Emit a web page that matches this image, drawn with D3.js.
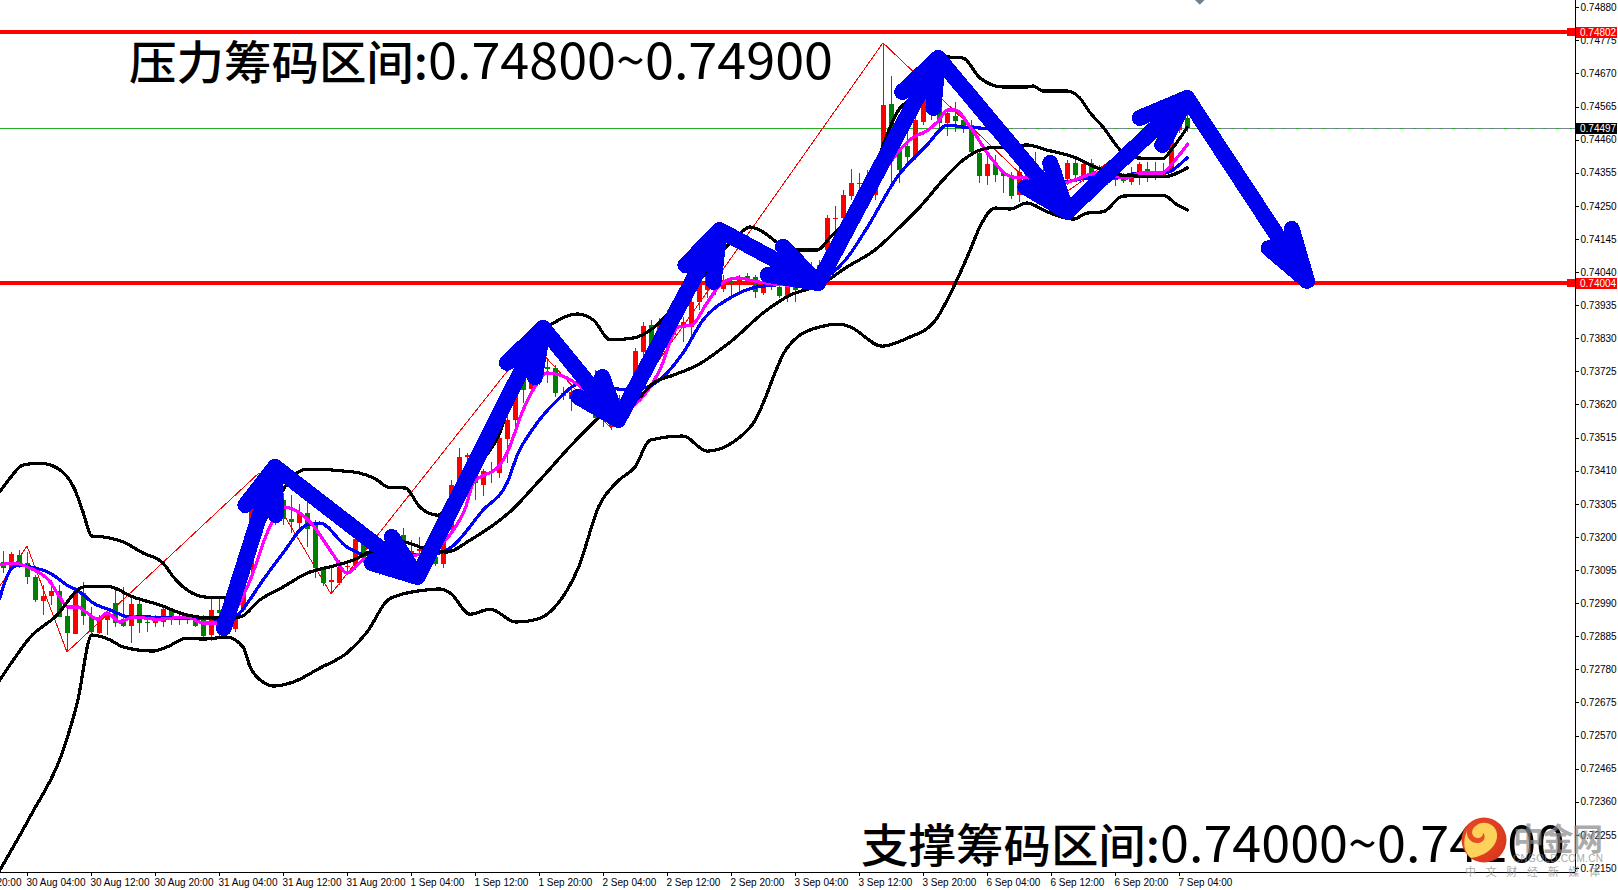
<!DOCTYPE html>
<html><head><meta charset="utf-8">
<script src="https://cdn.jsdelivr.net/npm/d3@7/dist/d3.min.js"></script>
<style>
html,body{margin:0;padding:0;background:#fff;overflow:hidden}
svg{display:block}
.axis text{font-family:"Liberation Sans","DejaVu Sans",sans-serif;font-size:10px;fill:#000}
.axis path,.axis line{stroke:#000;stroke-width:1;shape-rendering:crispEdges}
</style></head><body>
<svg id="chart" width="1618" height="890"></svg>
<script>
// Prices are quoted in units of 0.00001 (e.g. 73121 = 0.73121)
const candleOpen=[73121,73102,73143,73117,73073,72997,73013,73029,72949,72892,73022,72949,72895,72936,72990,72939,72917,72987,72930,72927,72930,72968,72939,72949,72946,72936,72889,72968,72921,72908,72968,73098,73285,73380,73349,73317,73257,73244,73276,73238,73098,73057,73054,73105,73108,73181,73149,73158,73143,73165,73206,73146,73155,73149,73136,73114,73222,73371,73453,73406,73365,73409,73403,73511,73571,73704,73669,73698,73739,73736,73656,73637,73650,73634,73650,73580,73549,73615,73640,73688,73787,73872,73856,73882,73879,73866,73866,73945,73983,73999,73986,74012,74009,74028,74025,73973,73999,73993,73961,73999,73999,74056,74015,74110,74208,74211,74281,74323,74339,74285,74418,74573,74427,74440,74405,74516,74538,74580,74513,74535,74522,74506,74418,74345,74383,74354,74342,74284,74364,74357,74357,74316,74332,74335,74386,74345,74386,74357,74338,74332,74335,74326,74354,74367,74357,74348,74357,74491,74529];
const candleHigh=[73155,73152,73158,73152,73079,73048,73063,73048,72974,73041,73057,72978,72952,72974,73032,73041,73006,73006,72952,72952,72978,72974,72958,72958,72952,72952,73013,73006,73016,72968,73095,73317,73380,73412,73365,73339,73333,73304,73311,73254,73105,73105,73127,73117,73212,73222,73174,73181,73190,73206,73228,73190,73200,73174,73158,73228,73380,73482,73466,73421,73415,73438,73533,73602,73672,73720,73745,73777,73761,73745,73675,73672,73666,73650,73729,73596,73587,73650,73682,73799,73882,73888,73894,73920,73894,73897,73958,74031,74047,74015,74031,74015,74031,74037,74031,74047,74031,73999,74015,74015,74047,74072,74078,74221,74250,74300,74367,74354,74364,74380,74767,74662,74522,74491,74538,74618,74602,74602,74560,74580,74538,74522,74427,74418,74411,74364,74357,74380,74380,74421,74380,74364,74380,74395,74395,74395,74399,74380,74364,74354,74354,74373,74389,74389,74389,74386,74491,74538,74548];
const candleLow=[73085,73102,73102,73050,72994,72952,72984,72946,72835,72892,72921,72882,72892,72889,72914,72914,72863,72895,72898,72914,72914,72921,72921,72924,72914,72882,72870,72882,72905,72898,72962,73089,73269,73301,73238,73238,73212,73222,73168,73070,73044,73019,73047,73085,73095,73117,73127,73079,73127,73143,73158,73143,73149,73079,73108,73102,73206,73349,73396,73317,73330,73371,73387,73434,73523,73625,73669,73682,73688,73644,73634,73599,73618,73596,73571,73549,73539,73571,73618,73666,73767,73802,73809,73856,73840,73818,73834,73920,73958,73967,73977,73961,73967,73999,73958,73967,73983,73958,73945,73945,73983,74015,73999,74094,74151,74189,74269,74285,74253,74269,74348,74323,74323,74386,74395,74506,74522,74497,74472,74484,74481,74411,74323,74316,74326,74291,74272,74262,74307,74316,74300,74285,74307,74316,74332,74326,74332,74326,74316,74313,74323,74316,74316,74326,74332,74348,74348,74481,74484];
const candleClose=[73102,73146,73117,73073,73000,73013,73029,72946,72895,73029,72949,72898,72936,72962,72927,72917,72987,72927,72927,72946,72971,72936,72949,72943,72917,72886,72968,72958,73000,72943,73079,73295,73349,73317,73254,73257,73247,73273,73225,73101,73054,73063,73105,73108,73193,73133,73158,73127,73174,73190,73174,73155,73162,73111,73114,73222,73365,73453,73460,73371,73409,73406,73514,73571,73650,73666,73736,73745,73733,73656,73647,73659,73634,73618,73577,73571,73561,73637,73666,73790,73869,73809,73879,73904,73866,73882,73945,73999,74047,73989,74015,74005,74015,74015,73977,74005,74015,73964,73993,73983,74031,74047,74063,74211,74211,74285,74323,74319,74285,74364,74570,74434,74364,74405,74522,74595,74586,74513,74545,74519,74494,74421,74345,74383,74348,74345,74281,74357,74332,74326,74326,74348,74364,74386,74348,74383,74342,74338,74354,74348,74329,74354,74383,74354,74348,74354,74465,74522,74497];

// [bar index, price]
const upperBand=[[-0.4,73343],[0.9,73387],[2.5,73428],[4.6,73434],[6.8,73418],[9,73349],[10,73279],[11.1,73203],[12.5,73200],[15,73184],[17.5,73149],[20,73117],[21.3,73073],[23,73032],[25.5,73009],[28,73009],[29.6,73032],[32.1,73222],[34,73301],[35,73349],[38,73415],[43.8,73406],[46.8,73380],[48.1,73358],[50.3,73355],[52.1,73295],[54.3,73269],[56.5,73333],[60,73444],[62.1,73530],[65.3,73809],[68.4,73872],[71.8,73907],[73.8,73888],[75.9,73825],[78.8,73831],[81.3,73863],[83,73904],[87.1,74015],[91.9,74158],[93.4,74183],[95,74167],[96.9,74132],[99.6,74110],[101.8,74110],[103.4,74151],[105.5,74205],[109,74373],[110.9,74500],[112.1,74560],[113.4,74586],[115.9,74681],[118,74722],[120,74719],[122.1,74656],[125,74627],[128,74627],[128.8,74630],[130,74614],[133.1,74614],[134.6,74592],[135.9,74545],[137.5,74500],[139.9,74421],[141.8,74402],[144.9,74399],[146.3,74437],[148,74497]];
const middleBand=[[-0.4,72746],[1.3,72810],[3.4,72882],[6.5,72946],[10,73041],[11.1,73044],[13,73044],[16.3,73009],[19.6,72984],[23,72952],[26.3,72943],[29.6,72946],[32.1,73000],[35,73041],[38,73085],[41.3,73108],[43.8,73127],[45.5,73149],[48,73168],[50,73184],[52.5,73165],[55.5,73152],[58.4,73190],[63.6,73285],[67.1,73380],[71.3,73498],[74.6,73580],[79.6,73644],[81.3,73688],[83.8,73713],[86.8,73745],[90.9,73818],[95.5,73920],[98.4,73967],[102.1,73999],[105.5,74056],[109,74110],[112.1,74183],[114.6,74246],[117.5,74332],[120,74395],[123,74433],[125.5,74437],[128,74443],[130.5,74427],[133.8,74405],[136.8,74370],[139.6,74348],[145,74342],[148,74370]];
const lowerBand=[[-0.4,72143],[3.5,72318],[7.4,72515],[9.3,72676],[11.1,72889],[13.4,72873],[15,72851],[18.8,72838],[20.5,72851],[23,72879],[25,72876],[28,72882],[30,72851],[30.9,72787],[32.5,72740],[33.8,72727],[36.3,72740],[39.6,72784],[43,72832],[45.5,72898],[48.1,73000],[49.6,73016],[53,73032],[54.6,73035],[55.9,73022],[58.4,72955],[60.9,72971],[64.1,72930],[66.8,72939],[69.3,72987],[71.9,73101],[74.5,73298],[77,73380],[79,73422],[80.9,73507],[85,73520],[88,73472],[91.3,73501],[93.8,73561],[98,73799],[99.3,73834],[102.1,73866],[104.6,73875],[105.9,73866],[109.9,73805],[113.1,73831],[116.4,73882],[119,74002],[120.9,74110],[122.1,74183],[124,74243],[125.9,74240],[128,74259],[130.5,74231],[133.8,74208],[135.5,74227],[137.5,74231],[140,74281],[145,74284],[146.8,74253],[148.1,74237]];
const blueAverage=[[-0.4,73006],[1.1,73101],[2.1,73111],[3.4,73105],[5.9,73085],[8,73047],[9.6,73025],[11.3,72990],[13.4,72968],[15.9,72946],[18,72946],[20.5,72943],[24.6,72943],[27.1,72939],[28.8,72939],[29.6,72959],[32.5,73063],[35,73149],[38,73238],[39.6,73244],[43,73168],[45.5,73143],[51.3,73143],[54.6,73149],[55.9,73165],[60,73285],[63,73371],[64.4,73466],[66.3,73545],[69.3,73634],[72.1,73685],[74.6,73682],[77.8,73666],[80.5,73675],[85,73783],[87.5,73888],[90.9,73958],[94.3,73993],[99.6,74005],[102.1,74015],[105.3,74078],[108,74180],[111.8,74342],[115.5,74443],[118.1,74506],[120,74500],[123.4,74494],[127.1,74411],[129.6,74357],[132.5,74326],[135.5,74338],[139.6,74342],[141.8,74354],[145,74354],[148,74402]];
const magentaAverage=[[-0.4,73111],[1.3,73117],[3.4,73101],[5.9,73057],[7.1,73009],[8.1,72978],[9.3,72978],[10.5,72959],[11.9,72939],[13,72959],[14.6,72930],[16.3,72946],[19.3,72939],[23,72946],[25,72927],[26.8,72927],[28.8,72959],[30.9,73063],[33,73212],[33.8,73254],[35,73295],[38.4,73247],[41.3,73143],[43,73085],[45.5,73133],[48.4,73133],[51.8,73143],[53.8,73158],[56.3,73222],[57.8,73292],[58.8,73371],[62.1,73428],[63,73466],[65,73602],[66.8,73688],[68,73720],[70.5,73704],[73,73660],[75.9,73587],[79.6,73634],[82.1,73729],[84.4,73866],[86.1,73872],[88,73942],[90,74008],[91.8,74021],[94.6,74008],[98,73999],[102.1,74015],[105.3,74142],[108.4,74285],[111.1,74395],[114.3,74475],[115,74481],[116.8,74516],[118.1,74554],[119,74554],[120.9,74500],[123.4,74405],[126.1,74342],[128.4,74338],[132.5,74323],[136.8,74354],[140.5,74338],[142.1,74354],[144.9,74354],[146.3,74389],[148.1,74446]];
const zigzag=[[-0.4,73044],[3,73171],[8,72835],[32,73403],[41,73019],[66,73821],[76,73545],[110,74767],[131,74259],[147,74548]];

// each arrow: start, tip, two barb ends
const arrows=[
 [[27.6,72911],[34,73422],[30.3,73301],[34.1,73269]],
 [[34,73422],[51.8,73073],[48.6,73200],[46.1,73117]],
 [[51.8,73073],[67.5,73863],[63,73752],[66.5,73707]],
 [[67.5,73863],[76.9,73571],[74.9,73707],[71.9,73644]],
 [[76.9,73571],[89.6,74173],[85.3,74062],[88.8,74008]],
 [[89.6,74173],[101.9,74005],[97.5,74120],[95.6,74031]],
 [[101.9,74005],[116.9,74719],[112.4,74611],[116.3,74560]],
 [[116.9,74719],[133,74231],[130.9,74386],[127.8,74310]],
 [[133,74231],[148,74592],[142.1,74529],[144.9,74443]],
 [[148,74592],[163,74012],[161.1,74177],[158.2,74116]]
];

const priceTicks=[74880,74775,74670,74565,74460,74355,74250,74145,74040,73935,73830,73725,73620,73515,73410,73305,73200,73095,72990,72885,72780,72675,72570,72465,72360,72255,72150];
const timeTickBars=[-5,3,11,19,27,35,43,51,59,67,75,83,91,99,107,115,123,131,139,147];
const timeTickLabels=["29 Aug 20:00","30 Aug 04:00","30 Aug 12:00","30 Aug 20:00","31 Aug 04:00","31 Aug 12:00","31 Aug 20:00","1 Sep 04:00","1 Sep 12:00","1 Sep 20:00","2 Sep 04:00","2 Sep 12:00","2 Sep 20:00","3 Sep 04:00","3 Sep 12:00","3 Sep 20:00","6 Sep 04:00","6 Sep 12:00","6 Sep 20:00","7 Sep 04:00"];
const levels=[74802,74004];
const lastPrice=74497;
const titleTopLabel="压力筹码区间:";
const titleTopRange="0.74800~0.74900";
const titleBottomLabel="支撑筹码区间:";
const titleBottomRange="0.74000~0.74200";
const markerBar=149.6, markerPrice=74903;

const svg=d3.select("#chart");
const plotRight=1575, plotBottom=872;
const x=d3.scaleLinear().domain([0,148]).range([3,1187]);
const y=d3.scaleLinear().domain([74880,72150]).range([7.2,868]);
const fmt=v=>(v/100000).toFixed(5);
const sx=v=>Math.round(x(v)), sy=v=>Math.round(y(v));

// level lines
svg.selectAll(".lvl").data(levels).join("line").attr("class","lvl")
  .attr("x1",0).attr("x2",plotRight).attr("y1",sy).attr("y2",sy)
  .attr("stroke","#ff0000").attr("stroke-width",4).attr("shape-rendering","crispEdges");
svg.selectAll(".lvlm").data(levels).join("rect").attr("class","lvlm")
  .attr("x",plotRight-8).attr("width",8).attr("y",d=>sy(d)-4).attr("height",8).attr("fill","#ff0000");

// last-price line: green with a dashed grey grid line under it
const ly=sy(lastPrice)+.5;
svg.append("line").attr("x1",0).attr("x2",plotRight).attr("y1",ly).attr("y2",ly)
  .attr("stroke","#22b022").attr("stroke-width",1).attr("shape-rendering","crispEdges");
svg.append("line").attr("x1",1000).attr("x2",plotRight).attr("y1",ly).attr("y2",ly)
  .attr("stroke","#778899").attr("stroke-width",1).attr("stroke-dasharray","10,3").attr("shape-rendering","crispEdges");

// zigzag
const line=d3.line().x(d=>x(d[0])).y(d=>y(d[1]));
svg.append("path").attr("d",line(zigzag)).attr("fill","none").attr("stroke","#ff0000").attr("stroke-width",1).attr("shape-rendering","crispEdges");

// candles
const candles=candleOpen.map((o,i)=>({i,o,h:candleHigh[i],l:candleLow[i],c:candleClose[i]}));
const colour=d=>d.c>=d.o?"#ff0000":"#008000";
const cg=svg.append("g").attr("shape-rendering","crispEdges");
cg.selectAll(".w").data(candles).join("rect").attr("class","w")
  .attr("x",d=>sx(d.i)).attr("width",1).attr("y",d=>sy(d.h)).attr("height",d=>Math.max(1,sy(d.l)-sy(d.h))).attr("fill",colour);
cg.selectAll(".b").data(candles).join("rect").attr("class","b")
  .attr("x",d=>sx(d.i)-2).attr("width",5)
  .attr("y",d=>sy(Math.max(d.o,d.c))).attr("height",d=>Math.max(1,sy(Math.min(d.o,d.c))-sy(Math.max(d.o,d.c)))).attr("fill",colour);

// indicator lines
const smooth=d3.line().x(d=>x(d[0])).y(d=>y(d[1])).curve(d3.curveMonotoneX);
[[blueAverage,"#0000ff"],[magentaAverage,"#ff00ff"],[upperBand,"#000"],[middleBand,"#000"],[lowerBand,"#000"]].forEach(([s,c])=>{
  svg.append("path").attr("d",smooth(s)).attr("fill","none").attr("stroke",c).attr("stroke-width",3.2)
    .attr("stroke-linejoin","round").attr("stroke-linecap","round").attr("shape-rendering","crispEdges");
});

// arrows
const ag=svg.append("g").attr("fill","none").attr("stroke","#0000f0").attr("stroke-width",16)
  .attr("stroke-linecap","round").attr("stroke-linejoin","round").attr("shape-rendering","crispEdges");
arrows.forEach(a=>{
  ag.append("path").attr("d",line([a[0],a[1]]));
  ag.append("path").attr("d",line([a[2],a[1],a[3]]));
});

// top marker
svg.append("path").attr("d",d3.symbol(d3.symbolDiamond2,60)()).attr("fill","#708090")
  .attr("transform",`translate(${x(markerBar)},${y(markerPrice)})`);

// axes
const yAxis=d3.axisRight(y).tickValues(priceTicks).tickFormat(fmt).tickSize(3).tickPadding(2);
const ya=svg.append("g").attr("class","axis").attr("transform",`translate(${plotRight+.5},0)`).call(yAxis);
ya.select(".domain").attr("d",`M0,0V${plotBottom}`);
const xAxis=d3.axisBottom(x).tickValues(timeTickBars).tickFormat((d,i)=>timeTickLabels[i]).tickSize(3).tickPadding(3);
const xa=svg.append("g").attr("class","axis").attr("transform",`translate(0,${plotBottom+.5})`).call(xAxis);
xa.select(".domain").attr("d",`M0,0H${plotRight}`);
xa.selectAll("text").attr("text-anchor","start").attr("dx",-1);

// price tags
const tags=[...levels.map(v=>({v,c:"#ff0000"})),{v:lastPrice,c:"#000"}];
const tg=svg.selectAll(".tag").data(tags).join("g").attr("class","axis tag");
tg.append("rect").attr("x",plotRight+1).attr("width",41).attr("y",d=>sy(d.v)-5).attr("height",11).attr("fill",d=>d.c);
tg.append("text").attr("x",plotRight+5).attr("y",d=>sy(d.v)+4).text(d=>fmt(d.v)).style("fill","#fff");

// headings: the Chinese part and the range are fitted separately
const cjk='"Noto Sans CJK SC","Noto Sans",sans-serif';
function heading(label,range,px,py){
  svg.append("text").attr("x",px).attr("y",py).attr("font-family",cjk).attr("font-size",46).attr("font-weight",500)
    .attr("textLength",299).attr("lengthAdjust","spacingAndGlyphs").text(label);
  svg.append("text").attr("x",px+299).attr("y",py).attr("font-family",cjk).attr("font-size",50).attr("font-weight",400)
    .attr("textLength",405).attr("lengthAdjust","spacingAndGlyphs").text(range);
}
heading(titleTopLabel,titleTopRange,129,79);
heading(titleBottomLabel,titleBottomRange,861,862);

// logo and watermark
const defs=svg.append("defs");
const grad=defs.append("radialGradient").attr("id","logoG").attr("cx","35%").attr("cy","40%").attr("r","75%");
grad.append("stop").attr("offset","0%").attr("stop-color","#e8502a");
grad.append("stop").attr("offset","100%").attr("stop-color","#d8341a");
const lg=svg.append("g").attr("transform","translate(1484,840)");
lg.append("circle").attr("r",22.5).attr("fill","url(#logoG)");
lg.append("path").attr("d","M-13,18C2,16 14,6 13,-6C12,-16 0,-20 -7,-15C-14,-11 -13,-3 -7,-2C-3,-2 -1,-4 -1,-7C2,-5 1,2 -5,3C-12,4 -18,-2 -17,-9C-22,2 -20,12 -13,18Z")
  .attr("fill","#fcd25a");
const wm=svg.append("g").attr("fill","#888").attr("opacity",.7).attr("font-family",cjk);
wm.append("text").attr("x",1513).attr("y",850).attr("font-size",31).attr("font-weight",700).attr("textLength",90).text("中金网");
wm.append("text").attr("x",1513).attr("y",862).attr("font-size",10).attr("font-family","Liberation Sans").attr("textLength",90).text("CNGOLD.COM.CN");
wm.append("text").attr("x",1465).attr("y",876).attr("font-size",11).attr("textLength",135).text("中文财经新媒体");
</script>
</body></html>
